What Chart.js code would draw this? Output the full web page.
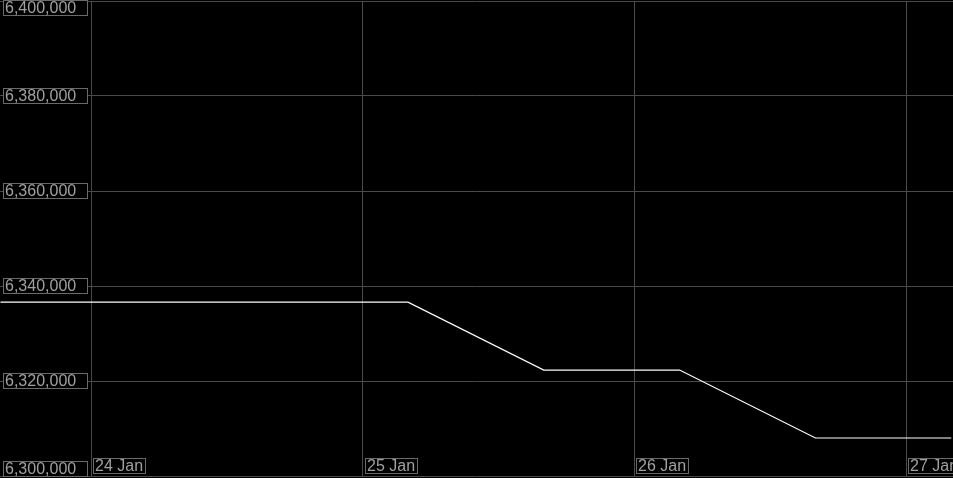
<!DOCTYPE html>
<html>
<head>
<meta charset="utf-8">
<style>
  html, body { margin: 0; padding: 0; background: #000; overflow: hidden; }
  #wrap { width: 953px; height: 478px; position: relative; }
</style>
</head>
<body>
<div id="wrap"><canvas id="chart"></canvas></div>
<script src="https://cdn.jsdelivr.net/npm/chart.js@4.4.0/dist/chart.umd.min.js"></script>
<script>
// hours counted from 24 Jan 00:00
var hours = [-8, 4, 16, 28, 40, 52, 64, 76];
var values = [6336600, 6336600, 6336600, 6336600, 6322300, 6322300, 6308000, 6308000];
var dayLabels = ["24 Jan", "25 Jan", "26 Jan", "27 Jan"];
var yTicks = [6300000, 6320000, 6340000, 6360000, 6380000, 6400000];

var points = hours.map(function (h, i) { return { x: h / 24, y: values[i] }; });

// tick labels drawn inside the plot, each in a thin grey box
var boxLabels = {
  id: 'boxLabels',
  afterDraw: function (chart) {
    var ctx = chart.ctx;
    var xs = chart.scales.x, ys = chart.scales.y;
    ctx.save();
    ctx.font = '16px "Liberation Sans", Arial, sans-serif';
    ctx.textBaseline = 'middle';
    ctx.lineWidth = 1;

    yTicks.forEach(function (v) {
      var py = ys.getPixelForValue(v);
      var top = Math.round(Math.min(Math.max(py - 8, 0), 461));
      ctx.fillStyle = '#000';
      ctx.fillRect(3, top, 85, 16);
      ctx.strokeStyle = '#6a6a6a';
      ctx.strokeRect(3.5, top + 0.5, 84, 15);
      ctx.fillStyle = '#a0a0a0';
      ctx.fillText(v.toLocaleString('en-US'), 5, top + 8.5);
    });

    dayLabels.forEach(function (lbl, i) {
      var px = Math.round(xs.getPixelForValue(i));
      var w = Math.round(ctx.measureText(lbl).width) + 4;
      ctx.fillStyle = '#000';
      ctx.fillRect(px + 2, 458, w, 16);
      ctx.strokeStyle = '#6a6a6a';
      ctx.strokeRect(px + 2.5, 458.5, w, 15);
      ctx.fillStyle = '#a0a0a0';
      ctx.fillText(lbl, px + 4, 466.5);
    });
    ctx.restore();
  }
};

var ctx = document.getElementById('chart').getContext('2d');
new Chart(ctx, {
  type: 'line',
  data: {
    datasets: [{
      data: points,
      borderColor: '#ffffff',
      borderWidth: 1.2,
      pointRadius: 0,
      tension: 0,
      fill: false
    }]
  },
  options: {
    responsive: true,
    maintainAspectRatio: false,
    animation: false,
    layout: { padding: { top: 1, bottom: 2, left: 0, right: 0 } },
    plugins: { legend: { display: false }, tooltip: { enabled: false } },
    scales: {
      x: {
        type: 'linear',
        min: -0.335,
        max: 3.173,
        afterBuildTicks: function (scale) {
          scale.ticks = dayLabels.map(function (l, i) { return { value: i }; });
        },
        ticks: { display: false },
        border: { display: false },
        grid: { color: '#4a4a4a', drawTicks: false, tickLength: 0 }
      },
      y: {
        type: 'linear',
        min: 6300000,
        max: 6400000,
        afterBuildTicks: function (scale) {
          scale.ticks = yTicks.map(function (v) { return { value: v }; });
        },
        ticks: { display: false },
        border: { display: false },
        grid: { color: '#4a4a4a', drawTicks: false, tickLength: 0 }
      }
    }
  },
  plugins: [boxLabels]
});
</script>
</body>
</html>
